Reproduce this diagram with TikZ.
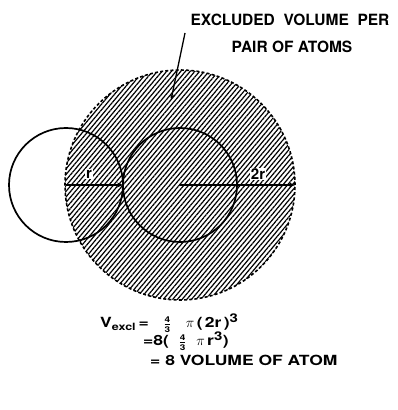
\documentclass[tikz,border=0pt]{standalone}
\usepackage{fontspec}
\setmainfont{TeX Gyre Heros}
\newfontfamily\eqfont[FakeStretch=1.25]{TeX Gyre Heros}
\usetikzlibrary{patterns.meta,arrows.meta}
\tikzset{
  atom/.style={draw=black,line width=1.7pt},
  excl/.style={draw=black,line width=1.6pt,dash pattern=on 3pt off 2.2pt},
  hatch/.style={pattern={Lines[angle=50,distance=3.6pt,line width=1.2pt]}},
  dim/.style={line width=1.5pt,-{Stealth[length=6pt,width=5pt]}},
  lbl/.style={fill=white,inner sep=0.8pt,font=\fontsize{15}{15}\selectfont\bfseries},
  title/.style={font=\fontsize{15.5}{16}\selectfont\bfseries,inner sep=0pt},
  eq/.style={font=\eqfont\fontsize{14}{14}\selectfont\bfseries,inner sep=0pt,anchor=base west}
}
\newcommand{\fourthirds}{$\frac{\mbox{\fontsize{8}{8}\selectfont\bfseries 4}}{\mbox{\fontsize{8}{8}\selectfont\bfseries 3}}$}
\begin{document}
\begin{tikzpicture}[x=1pt,y=1pt]
\useasboundingbox (0,0) rectangle (398,410);
% hatched excluded volume
\fill[hatch] (180,225) circle[radius=115];
\draw[excl] (180,225) circle[radius=115];
% atoms
\coordinate (cl) at (66,225);
\coordinate (cr) at (180,225);
\draw[atom] (cl) circle[radius=57];
\draw[atom] (cr) circle[radius=57];
% radius arrows
\coordinate (el) at (123,225);
\coordinate (er) at (295,225);
\draw[dim] (cl) -- (el);
\draw[dim] (cr) -- (er);
\node[lbl] (r) at (89,236) {r};
\node[lbl] (r2) at (258,236) {2r};
% title and pointer
\node[title] (t1) at (290,390) {EXCLUDED\ \ VOLUME\ \ PER};
\node[title] (t2) at (292,363) {PAIR OF ATOMS};
\coordinate (p1) at (185,377);
\coordinate (p2) at (171,310);
\draw[line width=1.3pt,-{Stealth[length=6pt,width=4pt]}] (p1) -- (p2);
% equations
\node[eq] (e1) at (100,82) {V$_{\mbox{\fontsize{10}{10}\selectfont\bfseries excl}}$\,=\ \ \ \fourthirds\ \ \ $\pi$\,(\,2r\,)$^{\mbox{\fontsize{12}{12}\selectfont\bfseries 3}}$};
\node[eq] (e2) at (143,64) {=8(\ \ \fourthirds\ \ $\pi$\,r$^{\mbox{\fontsize{12}{12}\selectfont\bfseries 3}}$)};
\node[eq] (e3) at (150,44) {= 8 VOLUME OF ATOM};
\end{tikzpicture}
\end{document}
